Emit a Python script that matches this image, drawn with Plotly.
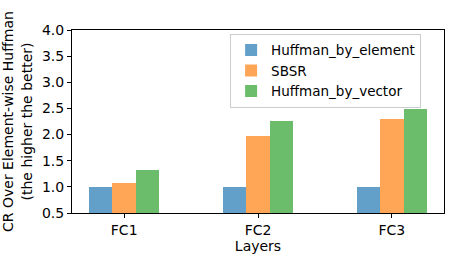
import plotly.graph_objects as go

categories = ["FC1", "FC2", "FC3"]
huffman_by_element = [1.0, 1.0, 1.0]
sbsr = [1.08, 1.97, 2.29]
huffman_by_vector = [1.32, 2.26, 2.49]
y_ticks = [0.5, 1.0, 1.5, 2.0, 2.5, 3.0, 3.5, 4.0]

series = [
    ("Huffman_by_element", huffman_by_element, "rgb(98,160,202)", -1),
    ("SBSR", sbsr, "rgb(255,165,86)", 0),
    ("Huffman_by_vector", huffman_by_vector, "rgb(107,188,107)", 1),
]
width = 0.175
xs = list(range(len(categories)))

fig = go.Figure()
for name, vals, color, off in series:
    fig.add_trace(go.Bar(
        x=[x + off * width for x in xs],
        y=[v - 0.5 for v in vals],
        base=0.5,
        width=width,
        name=name,
        marker=dict(color=color, line=dict(width=0)),
    ))

font = "DejaVu Sans, sans-serif"
fig.update_layout(
    width=456, height=262,
    margin=dict(l=72, r=12, t=30, b=48.5),
    paper_bgcolor="white", plot_bgcolor="white",
    font=dict(family=font, size=14, color="black"),
    bargap=0, barmode="overlay",
    showlegend=True,
    legend=dict(
        x=0.425, y=0.98, xanchor="left", yanchor="top",
        bgcolor="rgba(255,255,255,0.8)", bordercolor="#cccccc", borderwidth=1,
        font=dict(family=font, size=13.5), tracegroupgap=0, itemwidth=30,
    ),
    xaxis=dict(
        range=[-0.39, 2.39],
        tickmode="array", tickvals=xs, ticktext=categories,
        tickfont=dict(family=font, size=14),
        showline=True, linecolor="black", linewidth=1, mirror=True,
        ticks="outside", ticklen=4, tickcolor="black",
        showgrid=False, zeroline=False, automargin=False,
        title=dict(text="Layers", standoff=2, font=dict(family=font, size=14)),
    ),
    yaxis=dict(
        range=[0.5, 4.0],
        tickmode="array", tickvals=y_ticks, ticktext=[f"{t:.1f}" for t in y_ticks],
        tickfont=dict(family=font, size=14),
        showline=True, linecolor="black", linewidth=1, mirror=True,
        ticks="outside", ticklen=4, tickcolor="black",
        showgrid=False, zeroline=False, automargin=False,
        title=dict(text="CR Over Element-wise Huffman<br>(the higher the better)", standoff=6,
                   font=dict(family=font, size=14)),
    ),
)

fig.write_html("out.html", config={"displayModeBar": False},
               post_script="document.body.style.margin='0';document.body.style.overflow='hidden';")
